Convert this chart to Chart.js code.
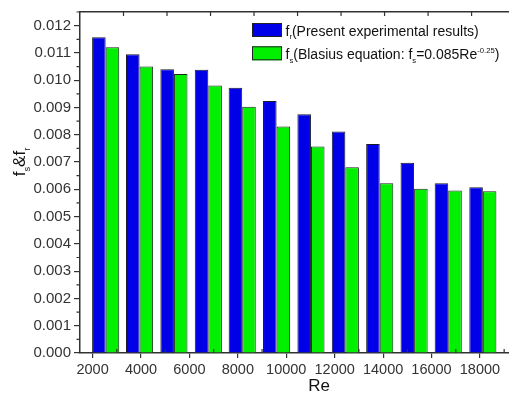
<!DOCTYPE html>
<html>
<head>
<meta charset="utf-8">
<script src="https://cdn.jsdelivr.net/npm/chart.js@4.4.1/dist/chart.umd.min.js"></script>
<style>
  html, body { margin: 0; padding: 0; background: #fff; }
  #wrap { width: 509px; height: 394px; position: relative; }
</style>
</head>
<body>
<div id="wrap"><canvas id="chart-friction"></canvas></div>
<script>
// Reynolds number of each bar group and the two friction factors
const RE_VALUES = [2540, 3940, 5360, 6780, 8180, 9600, 11020, 12440, 13860, 15280, 16690, 18120];
const F_R = [0.01157, 0.01095, 0.01040, 0.01038, 0.00972, 0.00924, 0.00875, 0.00812, 0.00766, 0.00697, 0.00622, 0.00608];
const F_S = [0.01121, 0.01050, 0.01023, 0.00981, 0.00903, 0.00830, 0.00757, 0.00681, 0.00622, 0.00602, 0.00596, 0.00593];

const X_TICKS = [2000, 4000, 6000, 8000, 10000, 12000, 14000, 16000, 18000];
const X_MINOR = [3000, 5000, 7000, 9000, 11000, 13000, 15000, 17000, 19000];
const Y_TICKS = [0, 0.001, 0.002, 0.003, 0.004, 0.005, 0.006, 0.007, 0.008, 0.009, 0.010, 0.011, 0.012];
const TOP_TICKS = [1, 2, 3, 4, 5, 6, 7, 8, 9];

// legend entries as rich text runs (sub / sup)
const LEGEND_R = [{ t: 'f' }, { t: 'r', sub: true }, { t: '(Present experimental results)' }];
const LEGEND_S = [{ t: 'f' }, { t: 's', sub: true }, { t: '(Blasius equation: f' }, { t: 's', sub: true },
  { t: '=0.085Re' }, { t: '-0.25', sup: true }, { t: ')' }];
const Y_TITLE = [{ t: 'f' }, { t: 's', sub: true }, { t: '&' }, { t: 'f' }, { t: 'r', sub: true }];

const FONT = 'Arial, "Liberation Sans", sans-serif';
const AXIS_COLOR = '#333';
const BLUE = '#0000e8';
const GREEN = '#00f000';

function drawRich(ctx, runs, x, y, size) {
  let cx = x;
  runs.forEach((run) => {
    const s = (run.sub || run.sup) ? size * 0.55 : size;
    const dy = run.sub ? size * 0.28 : run.sup ? -size * 0.42 : 0;
    ctx.font = `${s}px ${FONT}`;
    ctx.fillText(run.t, cx, y + dy);
    cx += ctx.measureText(run.t).width;
  });
  return cx - x;
}

function richWidth(ctx, runs, size) {
  return runs.reduce((w, run) => {
    const s = (run.sub || run.sup) ? size * 0.55 : size;
    ctx.font = `${s}px ${FONT}`;
    return w + ctx.measureText(run.t).width;
  }, 0);
}

const axisExtras = {
  id: 'axisExtras',
  afterDraw(chart) {
    const { ctx, chartArea, scales } = chart;
    const { x, y, x2 } = scales;
    ctx.save();
    ctx.strokeStyle = AXIS_COLOR;
    ctx.lineWidth = 1.2;
    ctx.beginPath();
    // minor y ticks, outward
    for (let i = 0; i < Y_TICKS.length; i++) {
      const py = y.getPixelForValue(Y_TICKS[i] + 0.0005);
      if (py < chartArea.top) break;
      ctx.moveTo(chartArea.left - 3.5, py);
      ctx.lineTo(chartArea.left, py);
    }
    // minor x ticks, inward
    X_MINOR.forEach((v) => {
      const px = x.getPixelForValue(v);
      if (px > chartArea.right) return;
      ctx.moveTo(px, chartArea.bottom);
      ctx.lineTo(px, chartArea.bottom - 4);
    });
    // top axis ticks, inward
    TOP_TICKS.forEach((v) => {
      const px = x2.getPixelForValue(v);
      ctx.moveTo(px, chartArea.top);
      ctx.lineTo(px, chartArea.top + 4);
    });
    ctx.stroke();

    // axis titles
    ctx.fillStyle = '#111';
    ctx.textBaseline = 'alphabetic';
    ctx.textAlign = 'left';
    ctx.font = `17px ${FONT}`;
    const reW = ctx.measureText('Re').width;
    ctx.fillText('Re', 319 - reW / 2, 391);

    ctx.save();
    ctx.translate(25, 162);
    ctx.rotate(-Math.PI / 2);
    const tw = richWidth(ctx, Y_TITLE, 17);
    drawRich(ctx, Y_TITLE, -tw / 2, 0, 17);
    ctx.restore();

    // legend
    const entries = [LEGEND_R, LEGEND_S];
    chart.data.datasets.forEach((ds, i) => {
      const top = 23 + i * 23.3;
      ctx.fillStyle = ds.backgroundColor;
      ctx.fillRect(252, top, 30, 14);
      ctx.strokeStyle = '#222';
      ctx.lineWidth = 1;
      ctx.strokeRect(252.5, top + 0.5, 29, 13);
      ctx.fillStyle = '#111';
      drawRich(ctx, entries[i], 285.5, top + 12.5, 14);
    });
    ctx.restore();
  }
};

const canvas = document.getElementById('chart-friction');
new Chart(canvas, {
  type: 'bar',
  data: {
    datasets: [
      {
        label: 'fr',
        data: RE_VALUES.map((re, i) => ({ x: re, y: F_R[i] })),
        backgroundColor: BLUE,
        borderColor: '#1a1a2a',
        borderWidth: 1,
        categoryPercentage: 0.8,
        barPercentage: 1.0
      },
      {
        label: 'fs',
        data: RE_VALUES.map((re, i) => ({ x: re, y: F_S[i] })),
        backgroundColor: GREEN,
        borderColor: '#1a2a1a',
        borderWidth: 1,
        categoryPercentage: 0.8,
        barPercentage: 1.0
      }
    ]
  },
  options: {
    responsive: true,
    maintainAspectRatio: false,
    animation: false,
    layout: { padding: { top: 11, right: 0, left: 0, bottom: 0 } },
    plugins: {
      legend: { display: false },
      tooltip: { enabled: false }
    },
    scales: {
      x: {
        type: 'linear',
        position: 'bottom',
        offset: false,
        min: 1480,
        max: 19200,
        afterBuildTicks: (scale) => { scale.ticks = X_TICKS.map((v) => ({ value: v })); },
        afterFit: (scale) => { scale.height = 41; },
        ticks: {
          autoSkip: false,
          maxRotation: 0,
          padding: 3,
          color: AXIS_COLOR,
          font: { family: FONT, size: 14.5 },
          callback: (v) => String(v)
        },
        grid: { offset: false, drawOnChartArea: false, tickLength: 5, color: AXIS_COLOR, lineWidth: 1.2 },
        border: { display: true, color: AXIS_COLOR, width: 1.5 }
      },
      x2: {
        type: 'linear',
        position: 'top',
        offset: false,
        min: 0,
        max: 9.86,
        afterFit: (scale) => { scale.height = 0; },
        ticks: { display: false },
        grid: { display: false },
        border: { display: true, color: AXIS_COLOR, width: 1.5 }
      },
      y: {
        min: 0,
        max: 0.0125,
        afterBuildTicks: (scale) => { scale.ticks = Y_TICKS.map((v) => ({ value: v })); },
        afterFit: (scale) => { scale.width = 80; },
        ticks: {
          padding: 3,
          color: AXIS_COLOR,
          font: { family: FONT, size: 15 },
          callback: (v) => Number(v).toFixed(3)
        },
        grid: { drawOnChartArea: false, tickLength: 6, color: AXIS_COLOR, lineWidth: 1.2 },
        border: { display: true, color: AXIS_COLOR, width: 1.5 }
      }
    }
  },
  plugins: [axisExtras]
});
</script>
</body>
</html>
